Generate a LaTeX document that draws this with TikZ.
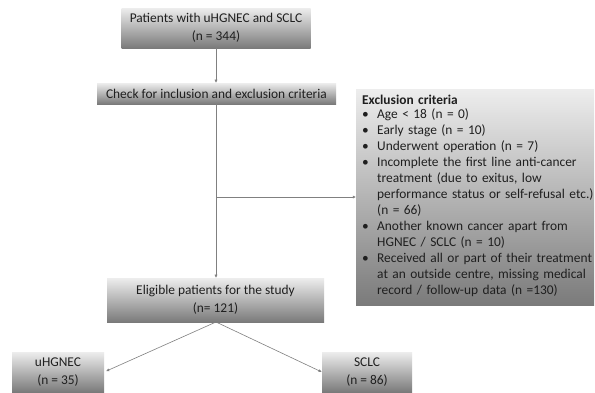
\documentclass[tikz,border=0pt]{standalone}
\usepackage{fontspec}
\setmainfont{Carlito}
\usetikzlibrary{arrows.meta}
\begin{document}
\begin{tikzpicture}[x=1pt,y=-1pt,
  box/.style={rectangle, draw=none, top color=black!7, bottom color=black!52,
    text=black!88, align=center, inner sep=0pt,
    font=\fontsize{13.4}{17.5}\selectfont},
  conn/.style={draw=black!50, line width=0.6pt,
    -{Latex[length=3.2pt,width=3.2pt]}}]
\useasboundingbox (0,0) rectangle (595,392);
\fill[white] (0,0) rectangle (595,392);
\node[box, minimum width=189pt, minimum height=40pt] (top) at (216,28)
  {Patients with uHGNEC and SCLC\\(n = 344)};
\node[box, minimum width=239pt, minimum height=21pt] (check) at (216.5,93.5)
  {Check for inclusion and exclusion criteria};
\node[box, anchor=north west, minimum width=238pt, minimum height=216pt,
  align=left, inner xsep=6pt, inner ysep=0pt, text width=226pt,
  font=\fontsize{13.4}{16}\selectfont] (excl) at (356,89)
  {\textbf{Exclusion criteria}\\[1pt]
   \begin{tabular}{@{}p{15pt}@{}l@{}}
   \textbullet & Age < 18 (n = 0)\\
   \textbullet & Early stage (n = 10)\\
   \textbullet & Underwent operation (n = 7)\\
   \textbullet & Incomplete the first line anti-cancer\\
               & treatment (due to exitus, low\\
               & performance status or self-refusal etc.)\\
               & (n = 66)\\
   \textbullet & Another known cancer apart from\\
               & HGNEC / SCLC (n = 10)\\
   \textbullet & Received all or part of their treatment\\
               & at an outside centre, missing medical\\
               & record / follow-up data (n =130)
   \end{tabular}};
\node[box, minimum width=217pt, minimum height=44pt] (elig) at (215.5,300)
  {Eligible patients for the study\\(n= 121)};
\node[box, minimum width=92pt, minimum height=40pt] (uh) at (58,372)
  {uHGNEC\\(n = 35)};
\node[box, minimum width=90pt, minimum height=40pt] (sc) at (367,372)
  {SCLC\\(n = 86)};
\coordinate (split) at (216,197);
\coordinate (esrc) at (216,322);
\draw[conn] (top.south -| split) -- (check.north -| split);
\draw[conn] (check.south -| split) -- (elig.north -| split);
\draw[conn] (split) -- (split -| excl.west);
\draw[conn, shorten >=2pt] (esrc) -- (uh.east);
\draw[conn] (esrc) -- (sc.west);
\end{tikzpicture}
\end{document}
